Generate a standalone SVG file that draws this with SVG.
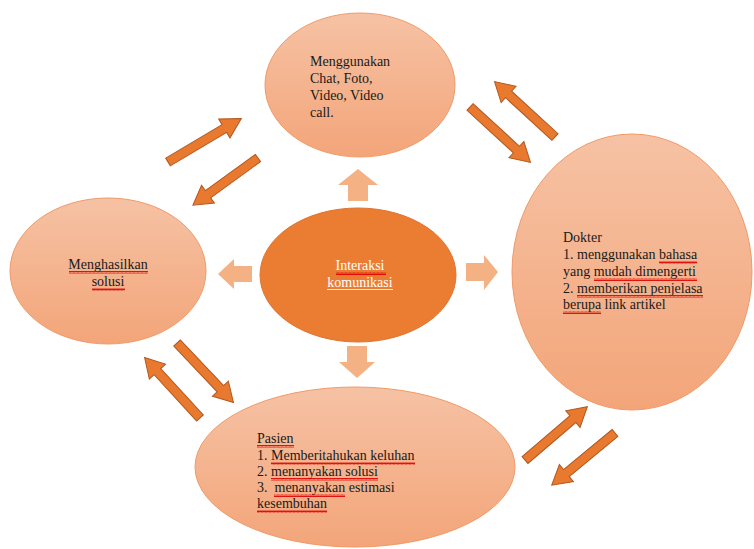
<svg xmlns="http://www.w3.org/2000/svg" width="754" height="549" viewBox="0 0 754 549">
<defs>
  <linearGradient id="ell" x1="0" y1="0" x2="0" y2="1">
    <stop offset="0" stop-color="#F6C2A4"/>
    <stop offset="1" stop-color="#F3A579"/>
  </linearGradient>
  <pattern id="squig" width="4" height="3" patternUnits="userSpaceOnUse">
    <path d="M0,2.5 L1,0.5 L2,2.5 L3,0.5 L4,2.5" fill="none" stroke="#E00000" stroke-width="0.9"/>
  </pattern>
  <path id="arr" d="M0,-4.5 L63,-4.5 L63,-11 L82,0 L63,11 L63,4.5 L0,4.5 Z"/>
</defs>
<style>
  .node { fill: url(#ell); stroke: #F09A68; stroke-width: 1; }
  .core { fill: #EB7D32; stroke: #E07430; stroke-width: 1; }
  .t { font-family: "Liberation Serif", "Times New Roman", serif; font-size: 14px; fill: #1a1a1a; white-space: pre; }
  .w { font-family: "Liberation Serif", "Times New Roman", serif; font-size: 14px; fill: #ffffff; }
  .dark use { fill: #E8792F; stroke: #B0581E; stroke-width: 1; }
  .light { fill: #F4B183; }
  .sq { fill: url(#squig); }
</style>
<rect width="754" height="549" fill="#ffffff"/>

<g id="connectors">
  <g class="light">
    <polygon points="358,169 378,185 368,185 368,201 348,201 348,185 338,185"/>
    <polygon points="498,272 484,255 484,263 466,263 466,281 484,281 484,290"/>
    <polygon points="218,274 234,259 234,266 252,266 252,282 234,282 234,289"/>
    <polygon points="357,378 375,362 367,362 367,346 347,346 347,362 339,362"/>
  </g>
  <g class="dark">
    <use href="#arr" transform="translate(168,162) rotate(-30.7) scale(1.04,1)"/>
    <use href="#arr" transform="translate(258,158) rotate(144.1) scale(0.98,1)"/>
    <use href="#arr" transform="translate(555,137) rotate(-137.5)"/>
    <use href="#arr" transform="translate(470,107) rotate(42.5)"/>
    <use href="#arr" transform="translate(200,418) rotate(-132.5)"/>
    <use href="#arr" transform="translate(177,343) rotate(46.5)"/>
    <use href="#arr" transform="translate(525,460) rotate(-40.5)"/>
    <use href="#arr" transform="translate(615,433) rotate(140.5)"/>
  </g>
</g>

<g id="node-top">
  <ellipse class="node" cx="360" cy="85" rx="95" ry="72"/>
  <text class="t" x="310" y="66">Menggunakan</text>
  <text class="t" x="310" y="83">Chat, Foto,</text>
  <text class="t" x="310" y="100">Video, Video</text>
  <text class="t" x="310" y="117">call.</text>
</g>

<g id="node-left">
  <ellipse class="node" cx="108" cy="271" rx="98" ry="73"/>
  <text class="t" x="108" y="269" text-anchor="middle">Menghasilkan</text>
  <text class="t" x="108" y="286" text-anchor="middle">solusi</text>
  <rect class="sq" x="69" y="271" width="79" height="3"/>
  <rect class="sq" x="92" y="288" width="33" height="3"/>
</g>

<g id="node-center">
  <ellipse class="core" cx="358" cy="275" rx="98" ry="67"/>
  <text class="w" x="360" y="270" text-anchor="middle">Interaksi</text>
  <text class="w" x="360" y="287" text-anchor="middle">komunikasi</text>
  <rect class="sq" x="336" y="272" width="50" height="3"/>
  <rect x="327" y="289" width="66" height="0.8" fill="#ffffff"/>
</g>

<g id="node-right">
  <ellipse class="node" cx="632" cy="272" rx="120" ry="138"/>
  <text class="t" x="563" y="242">Dokter</text>
  <text class="t" x="563" y="259">1. menggunakan bahasa</text>
  <text class="t" x="563" y="276">yang mudah dimengerti</text>
  <text class="t" x="563" y="293">2. memberikan penjelasa</text>
  <text class="t" x="563" y="309">berupa link artikel</text>
  <rect class="sq" x="659" y="261" width="38" height="3"/>
  <rect class="sq" x="594" y="278" width="103" height="3"/>
  <rect class="sq" x="577" y="295" width="126" height="3"/>
  <rect class="sq" x="563" y="311" width="38" height="3"/>
</g>

<g id="node-bottom">
  <ellipse class="node" cx="355" cy="467" rx="160" ry="80"/>
  <text class="t" x="257" y="443">Pasien</text>
  <text class="t" x="257" y="460">1. Memberitahukan keluhan</text>
  <text class="t" x="257" y="476">2. menanyakan solusi</text>
  <text class="t" x="257" y="492">3.  menanyakan estimasi</text>
  <text class="t" x="257" y="508">kesembuhan</text>
  <rect class="sq" x="257" y="445" width="37" height="3"/>
  <rect class="sq" x="271" y="462" width="144" height="3"/>
  <rect class="sq" x="271" y="478" width="107" height="3"/>
  <rect class="sq" x="274" y="494" width="71" height="3"/>
  <rect class="sq" x="257" y="510" width="70" height="3"/>
</g>
</svg>
